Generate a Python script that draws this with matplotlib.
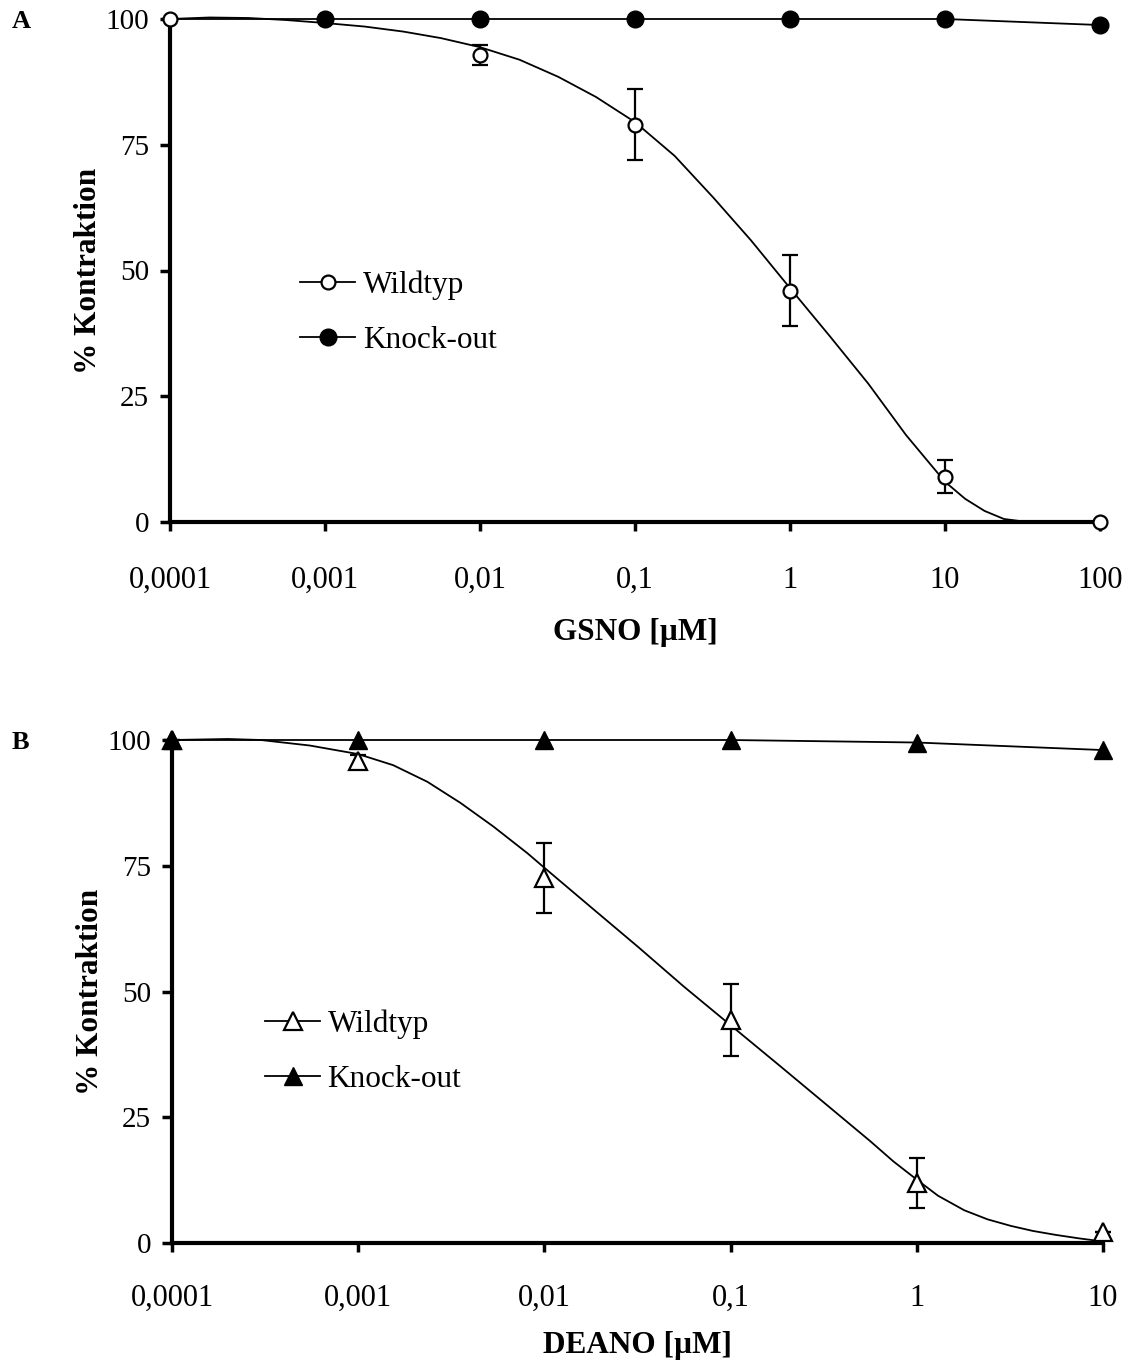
import matplotlib
matplotlib.use("Agg")
import matplotlib.pyplot as plt
from matplotlib.ticker import FixedLocator, FixedFormatter, NullLocator

plt.rcParams['font.family'] = ['Liberation Serif', 'DejaVu Serif']

# ---------------- data: panel A (GSNO) ----------------
a_conc = [0.0001, 0.001, 0.01, 0.1, 1, 10, 100]
a_wt = [100, 100, 92.8, 79.0, 46.0, 9.0, 0.0]
a_wt_err = [0, 0, 2.0, 7.0, 7.0, 3.3, 0]
a_ko = [100, 100, 100, 100, 100, 100, 98.8]

a_fit_x = [1e-4, 1.8e-4, 3.2e-4, 5.6e-4, 1e-3, 1.8e-3, 3.2e-3, 5.6e-3, 1e-2, 1.8e-2,
           3.2e-2, 5.6e-2, 0.1, 0.18, 0.32, 0.56, 1, 1.8, 3.2, 5.6, 10, 13.5, 18, 24,
           34, 100]
a_fit_wt = [100, 100.3, 100.2, 99.8, 99.2, 98.5, 97.5, 96.2, 94.4, 91.9,
            88.5, 84.5, 79.5, 72.8, 64.5, 56, 46.5, 37, 27.5, 17.3, 8.0, 4.6, 2.2, 0.6,
            0, 0]

a_xticks = [0.0001, 0.001, 0.01, 0.1, 1, 10, 100]
a_xlabels = ['0,0001', '0,001', '0,01', '0,1', '1', '10', '100']

# ---------------- data: panel B (DEANO) ----------------
b_conc = [0.0001, 0.001, 0.01, 0.1, 1, 10]
b_wt = [100, 95.8, 72.6, 44.3, 11.9, 2.2]
b_wt_err = [0, 1.2, 7.0, 7.2, 4.9, 0]
b_ko = [100, 100, 100, 100, 99.5, 98.0]

b_fit_x = [1e-4, 2e-4, 3e-4, 5.5e-4, 1e-3, 1.54e-3, 2.35e-3, 3.54e-3, 5.32e-3, 8.1e-3,
           1e-2, 1.8e-2, 3.2e-2, 5.6e-2, 0.1, 0.18, 0.32, 0.56, 0.75, 1, 1.3, 1.8,
           2.4, 3.2, 4.2, 5.6, 7.5, 10]
b_fit_wt = [100, 100.2, 100, 98.9, 97.2, 95, 91.7, 87.5, 82.8, 77.5,
            74.6, 66.6, 58.8, 51.0, 43.3, 35.5, 27.8, 20.3, 16.2, 12.6, 9.4, 6.5,
            4.7, 3.4, 2.4, 1.6, 0.9, 0.3]

b_xticks = [0.0001, 0.001, 0.01, 0.1, 1, 10]
b_xlabels = ['0,0001', '0,001', '0,01', '0,1', '1', '10']

yticks = [0, 25, 50, 75, 100]
ylabels = ['0', '25', '50', '75', '100']

series_names = ['Wildtyp', 'Knock-out']

# ---------------- figure ----------------
W, H = 1138, 1363
fig = plt.figure(figsize=(W / 100, H / 100), dpi=100)

axA = fig.add_axes([170 / W, 1 - 522 / H, 930 / W, 503 / H])
axB = fig.add_axes([172 / W, 1 - 1243 / H, 931 / W, 503 / H])

FSX = 22
FSY = 21
FSL = 22.5
lw_curve = 1.3


def style_axis(ax, xticks, xlabels, xlabel, xpad, xlabelpad):
    ax.set_xscale('log')
    ax.set_xlim(xticks[0], xticks[-1])
    ax.set_ylim(0, 100)
    for s in ('top', 'right'):
        ax.spines[s].set_visible(False)
    for s in ('left', 'bottom'):
        ax.spines[s].set_linewidth(3.0)
    ax.xaxis.set_major_locator(FixedLocator(xticks))
    ax.xaxis.set_major_formatter(FixedFormatter(xlabels))
    ax.xaxis.set_minor_locator(NullLocator())
    ax.yaxis.set_major_locator(FixedLocator(yticks))
    ax.yaxis.set_major_formatter(FixedFormatter(ylabels))
    ax.tick_params(axis='x', which='major', direction='out', length=6.5, width=2.5,
                   pad=xpad, labelsize=FSX)
    ax.tick_params(axis='y', which='major', direction='out', length=7, width=2.5,
                   pad=8, labelsize=FSY)
    ax.set_xlabel(xlabel, fontsize=FSL, fontweight='bold', labelpad=xlabelpad)
    ax.set_ylabel('% Kontraktion', fontsize=FSL, fontweight='bold', labelpad=2)


def add_legend(ax, handles, anchor):
    ax.legend(handles, series_names, loc='upper left', bbox_to_anchor=anchor,
              frameon=False, fontsize=FSL, handlelength=1.76, handletextpad=0.24,
              labelspacing=0.84, borderpad=0, borderaxespad=0)


# ----- Panel A -----
style_axis(axA, a_xticks, a_xlabels, 'GSNO [µM]', 25, 17)
axA.plot(a_fit_x, a_fit_wt, color='black', lw=lw_curve, zorder=3, clip_on=False)
axA.plot(a_conc, a_ko, color='black', lw=lw_curve, zorder=3, clip_on=False)
axA.errorbar(a_conc, a_wt, yerr=a_wt_err, fmt='o', ms=10, mfc='white', mec='black',
             mew=1.6, ecolor='black', elinewidth=1.6, capsize=5.5, capthick=1.6,
             zorder=4, clip_on=False)
axA.plot(a_conc, a_ko, linestyle='none', marker='o', ms=12, mfc='black', mec='black',
         markevery=slice(1, None), zorder=5, clip_on=False)
hA1, = axA.plot([], [], color='black', lw=lw_curve, marker='o', ms=10, mfc='white',
                mec='black', mew=1.6)
hA2, = axA.plot([], [], color='black', lw=lw_curve, marker='o', ms=12, mfc='black',
                mec='black')
add_legend(axA, [hA1, hA2], (0.14, 0.500))

# ----- Panel B -----
style_axis(axB, b_xticks, b_xlabels, 'DEANO [µM]', 23, 13)
axB.plot(b_fit_x, b_fit_wt, color='black', lw=lw_curve, zorder=3, clip_on=False)
axB.plot(b_conc, b_ko, color='black', lw=lw_curve, zorder=3, clip_on=False)
axB.errorbar(b_conc, b_wt, yerr=b_wt_err, fmt='^', ms=13, mfc='white', mec='black',
             mew=1.6, ecolor='black', elinewidth=1.6, capsize=5.5, capthick=1.6,
             zorder=4, clip_on=False)
axB.plot(b_conc, b_ko, linestyle='none', marker='^', ms=13, mfc='black', mec='black',
         zorder=5, clip_on=False)
hB1, = axB.plot([], [], color='black', lw=lw_curve, marker='^', ms=13, mfc='white',
                mec='black', mew=1.6)
hB2, = axB.plot([], [], color='black', lw=lw_curve, marker='^', ms=13, mfc='black',
                mec='black')
add_legend(axB, [hB1, hB2], (0.10, 0.464))

# panel letters
fig.text(12 / W, 1 - 10 / H, 'A', fontsize=19, fontweight='bold', va='top', ha='left')
fig.text(12 / W, 1 - 731 / H, 'B', fontsize=19, fontweight='bold', va='top', ha='left')

fig.savefig('out.png', dpi=100, facecolor='white')
